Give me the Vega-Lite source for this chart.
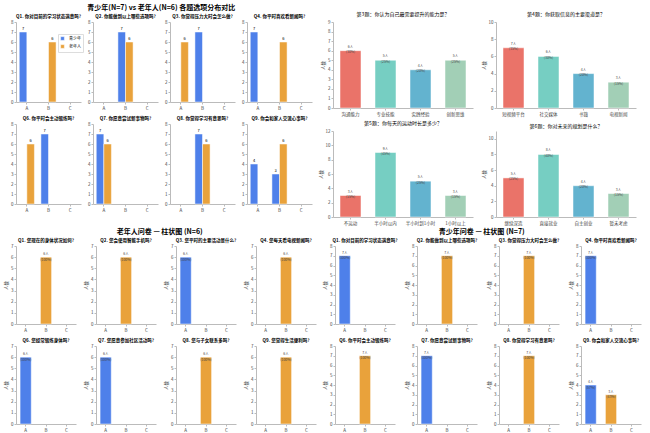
{
  "$schema": "https://vega.github.io/schema/vega-lite/v6.json",
  "padding": 3,
  "background": "white",
  "datasets": {
    "questions": [
      {"q": "Q1", "teen": "Q1. 你对目前的学习状态满意吗?", "old": "Q1. 您现在的身体状况如何?"},
      {"q": "Q2", "teen": "Q2. 你能做到以上哪些选项吗?", "old": "Q2. 您会使用智能手机吗?"},
      {"q": "Q3", "teen": "Q3. 你觉得压力大时会怎么做?", "old": "Q3. 您平时的主要活动是什么?"},
      {"q": "Q4", "teen": "Q4. 你平时喜欢看新闻吗?", "old": "Q4. 您每天看电视新闻吗?"},
      {"q": "Q6", "teen": "Q6. 你平时会主动锻炼吗?", "old": "Q6. 您经常锻炼身体吗?"},
      {"q": "Q7", "teen": "Q7. 你愿意尝试新事物吗?", "old": "Q7. 您愿意参加社区活动吗?"},
      {"q": "Q8", "teen": "Q8. 你觉得学习有意思吗?", "old": "Q8. 您与子女联系多吗?"},
      {"q": "Q9", "teen": "Q9. 你会和家人交流心事吗?", "old": "Q9. 您觉得生活便利吗?"}
    ],
    "survey": [
      {"q": "Q1", "group": "青少年", "option": "A", "count": 7},
      {"q": "Q1", "group": "老年人", "option": "B", "count": 6},
      {"q": "Q2", "group": "青少年", "option": "B", "count": 7},
      {"q": "Q2", "group": "老年人", "option": "B", "count": 6},
      {"q": "Q3", "group": "青少年", "option": "B", "count": 7},
      {"q": "Q3", "group": "老年人", "option": "A", "count": 6},
      {"q": "Q4", "group": "青少年", "option": "A", "count": 7},
      {"q": "Q4", "group": "老年人", "option": "B", "count": 6},
      {"q": "Q6", "group": "青少年", "option": "B", "count": 7},
      {"q": "Q6", "group": "老年人", "option": "A", "count": 6},
      {"q": "Q7", "group": "青少年", "option": "A", "count": 7},
      {"q": "Q7", "group": "老年人", "option": "A", "count": 6},
      {"q": "Q8", "group": "青少年", "option": "B", "count": 7},
      {"q": "Q8", "group": "老年人", "option": "B", "count": 6},
      {"q": "Q9", "group": "青少年", "option": "A", "count": 4},
      {"q": "Q9", "group": "青少年", "option": "B", "count": 3},
      {"q": "Q9", "group": "老年人", "option": "B", "count": 6}
    ],
    "ranking": [
      {"panel": 1, "choice": "沟通能力", "count": 6},
      {"panel": 1, "choice": "专业技能", "count": 5},
      {"panel": 1, "choice": "实践经验", "count": 4},
      {"panel": 1, "choice": "创新思维", "count": 5},
      {"panel": 2, "choice": "短视频平台", "count": 7},
      {"panel": 2, "choice": "社交媒体", "count": 6},
      {"panel": 2, "choice": "书籍", "count": 4},
      {"panel": 2, "choice": "电视新闻", "count": 3},
      {"panel": 3, "choice": "不运动", "count": 3},
      {"panel": 3, "choice": "半小时以内", "count": 9},
      {"panel": 3, "choice": "半小时到1小时", "count": 5},
      {"panel": 3, "choice": "1小时以上", "count": 3},
      {"panel": 4, "choice": "继续深造", "count": 5},
      {"panel": 4, "choice": "直接就业", "count": 8},
      {"panel": 4, "choice": "自主创业", "count": 4},
      {"panel": 4, "choice": "暂未考虑", "count": 3}
    ]
  },
  "spacing": 2,
  "resolve": {"scale": {"color": "independent", "x": "independent", "y": "independent"}},
  "vconcat": [
    {
      "spacing": 6,
      "resolve": {"scale": {"color": "independent", "x": "independent", "y": "independent"}},
      "hconcat": [
        {
          "title": "青少年(N=7) vs 老年人(N=6) 各题选项分布对比",
          "data": {"name": "survey"},
          "transform": [
            {"lookup": "q", "from": {"data": {"name": "questions"}, "key": "q", "fields": ["teen"]}}
          ],
          "facet": {"field": "teen", "type": "nominal", "header": {"title": null}},
          "columns": 4,
          "spacing": {"row": 5, "column": 6},
          "resolve": {"axis": {"x": "independent", "y": "independent"}},
          "spec": {
            "width": 65,
            "height": 80,
            "encoding": {
              "x": {"field": "option", "type": "nominal", "scale": {"domain": ["A", "B", "C"], "paddingInner": 0.3, "paddingOuter": 0.15}, "axis": {"title": null, "labelAngle": 0}},
              "xOffset": {"field": "group", "type": "nominal", "scale": {"domain": ["青少年", "老年人"]}},
              "y": {"field": "count", "type": "quantitative", "scale": {"domain": [0, 8]}, "axis": {"title": null, "values": [0, 1, 2, 3, 4, 5, 6, 7, 8]}}
            },
            "layer": [
              {
                "mark": "bar",
                "encoding": {
                  "color": {
                    "field": "group", "type": "nominal",
                    "scale": {"domain": ["青少年", "老年人"], "range": ["#4E80EA", "#E9A23B"]},
                    "legend": {"orient": "none", "legendX": 42, "legendY": 12, "title": null, "labelFontSize": 4, "symbolType": "square", "symbolSize": 14, "rowPadding": 1, "padding": 2, "strokeColor": "#ddd"}
                  }
                }
              },
              {
                "mark": {"type": "text", "baseline": "bottom", "dy": -1, "fontSize": 4},
                "encoding": {"text": {"field": "count", "type": "quantitative"}}
              }
            ]
          }
        },
        {
          "spacing": 5,
          "resolve": {"scale": {"color": "independent", "x": "independent", "y": "independent"}},
          "vconcat": [
            {
              "spacing": 8,
              "resolve": {"scale": {"color": "independent", "x": "independent", "y": "independent"}},
              "hconcat": [
                {
                  "title": {"text": "第3题：你认为自己最需要提升的能力是？", "fontSize": 5, "fontWeight": "normal", "offset": 2},
                  "data": {"name": "ranking"},
                  "transform": [
                    {"filter": "datum.panel == 1"},
                    {"joinaggregate": [{"op": "sum", "field": "count", "as": "total"}]},
                    {"calculate": "datum.count + '人\\n(' + format(datum.count / datum.total, '.0%') + ')'", "as": "label"}
                  ],
                  "width": 140,
                  "height": 86,
                  "encoding": {
                    "x": {"field": "choice", "type": "nominal", "sort": null, "scale": {"paddingInner": 0.4, "paddingOuter": 0.2}, "axis": {"title": null, "labelAngle": 0}},
                    "y": {"field": "count", "type": "quantitative", "scale": {"domain": [0, 9]}, "axis": {"title": "人数", "values": [0, 1, 2, 3, 4, 5, 6, 7, 8, 9]}}
                  },
                  "layer": [
                    {"mark": "bar", "encoding": {"color": {"field": "choice", "type": "nominal", "sort": null, "scale": {"range": ["#EA7369", "#76CEC2", "#63B3CF", "#A2CFB6"]}, "legend": null}}},
                    {"mark": {"type": "text", "baseline": "bottom", "dy": -2, "fontSize": 3.5, "lineBreak": "\n", "color": "#444"}, "encoding": {"text": {"field": "label"}}}
                  ]
                },
                {
                  "title": {"text": "第4题：你获取信息的主要渠道是？", "fontSize": 5, "fontWeight": "normal", "offset": 2},
                  "data": {"name": "ranking"},
                  "transform": [
                    {"filter": "datum.panel == 2"},
                    {"joinaggregate": [{"op": "sum", "field": "count", "as": "total"}]},
                    {"calculate": "datum.count + '人\\n(' + format(datum.count / datum.total, '.0%') + ')'", "as": "label"}
                  ],
                  "width": 140,
                  "height": 86,
                  "encoding": {
                    "x": {"field": "choice", "type": "nominal", "sort": null, "scale": {"paddingInner": 0.4, "paddingOuter": 0.2}, "axis": {"title": null, "labelAngle": 0}},
                    "y": {"field": "count", "type": "quantitative", "scale": {"domain": [0, 10]}, "axis": {"title": "人数", "values": [0, 2, 4, 6, 8, 10]}}
                  },
                  "layer": [
                    {"mark": "bar", "encoding": {"color": {"field": "choice", "type": "nominal", "sort": null, "scale": {"range": ["#EA7369", "#76CEC2", "#63B3CF", "#A2CFB6"]}, "legend": null}}},
                    {"mark": {"type": "text", "baseline": "bottom", "dy": -2, "fontSize": 3.5, "lineBreak": "\n", "color": "#444"}, "encoding": {"text": {"field": "label"}}}
                  ]
                }
              ]
            },
            {
              "spacing": 8,
              "resolve": {"scale": {"color": "independent", "x": "independent", "y": "independent"}},
              "hconcat": [
                {
                  "title": {"text": "第5题：你每天的运动时长是多少？", "fontSize": 5, "fontWeight": "normal", "offset": 2},
                  "data": {"name": "ranking"},
                  "transform": [
                    {"filter": "datum.panel == 3"},
                    {"joinaggregate": [{"op": "sum", "field": "count", "as": "total"}]},
                    {"calculate": "datum.count + '人\\n(' + format(datum.count / datum.total, '.0%') + ')'", "as": "label"}
                  ],
                  "width": 140,
                  "height": 86,
                  "encoding": {
                    "x": {"field": "choice", "type": "nominal", "sort": null, "scale": {"paddingInner": 0.4, "paddingOuter": 0.2}, "axis": {"title": null, "labelAngle": 0}},
                    "y": {"field": "count", "type": "quantitative", "scale": {"domain": [0, 12]}, "axis": {"title": "人数", "values": [0, 2, 4, 6, 8, 10, 12]}}
                  },
                  "layer": [
                    {"mark": "bar", "encoding": {"color": {"field": "choice", "type": "nominal", "sort": null, "scale": {"range": ["#EA7369", "#76CEC2", "#63B3CF", "#A2CFB6"]}, "legend": null}}},
                    {"mark": {"type": "text", "baseline": "bottom", "dy": -2, "fontSize": 3.5, "lineBreak": "\n", "color": "#444"}, "encoding": {"text": {"field": "label"}}}
                  ]
                },
                {
                  "title": {"text": "第6题：你对未来的规划是什么？", "fontSize": 5, "fontWeight": "normal", "offset": 2},
                  "data": {"name": "ranking"},
                  "transform": [
                    {"filter": "datum.panel == 4"},
                    {"joinaggregate": [{"op": "sum", "field": "count", "as": "total"}]},
                    {"calculate": "datum.count + '人\\n(' + format(datum.count / datum.total, '.0%') + ')'", "as": "label"}
                  ],
                  "width": 140,
                  "height": 86,
                  "encoding": {
                    "x": {"field": "choice", "type": "nominal", "sort": null, "scale": {"paddingInner": 0.4, "paddingOuter": 0.2}, "axis": {"title": null, "labelAngle": 0}},
                    "y": {"field": "count", "type": "quantitative", "scale": {"domain": [0, 11]}, "axis": {"title": "人数", "values": [0, 2, 4, 6, 8, 10]}}
                  },
                  "layer": [
                    {"mark": "bar", "encoding": {"color": {"field": "choice", "type": "nominal", "sort": null, "scale": {"range": ["#EA7369", "#76CEC2", "#63B3CF", "#A2CFB6"]}, "legend": null}}},
                    {"mark": {"type": "text", "baseline": "bottom", "dy": -2, "fontSize": 3.5, "lineBreak": "\n", "color": "#444"}, "encoding": {"text": {"field": "label"}}}
                  ]
                }
              ]
            }
          ]
        }
      ]
    },
    {
      "spacing": 6,
      "resolve": {"scale": {"color": "independent", "x": "independent", "y": "independent"}},
      "hconcat": [
        {
          "title": "老年人问卷 — 柱状图 (N=6)",
          "data": {"name": "survey"},
          "transform": [
            {"filter": "datum.group == '老年人'"},
            {"lookup": "q", "from": {"data": {"name": "questions"}, "key": "q", "fields": ["old"]}},
            {"joinaggregate": [{"op": "sum", "field": "count", "as": "total"}], "groupby": ["q"]},
            {"calculate": "datum.count + '人\\n(' + format(datum.count / datum.total, '.0%') + ')'", "as": "label"}
          ],
          "facet": {"field": "old", "type": "nominal", "header": {"title": null}},
          "columns": 4,
          "spacing": {"row": 5, "column": 6},
          "resolve": {"axis": {"x": "independent", "y": "independent"}},
          "spec": {
            "width": 60,
            "height": 78,
            "encoding": {
              "x": {"field": "option", "type": "nominal", "scale": {"domain": ["A", "B", "C"], "paddingInner": 0.45, "paddingOuter": 0.2}, "axis": {"title": null, "labelAngle": 0}},
              "y": {"field": "count", "type": "quantitative", "scale": {"domain": [0, 7]}, "axis": {"title": "人数", "values": [0, 1, 2, 3, 4, 5, 6, 7]}}
            },
            "layer": [
              {"mark": "bar", "encoding": {"color": {"field": "option", "type": "nominal", "scale": {"domain": ["A", "B", "C"], "range": ["#4E80EA", "#E9A23B", "#59B987"]}, "legend": null}}},
              {"mark": {"type": "text", "baseline": "bottom", "dy": -1, "fontSize": 3.5, "lineBreak": "\n", "color": "#444"}, "encoding": {"text": {"field": "label"}}}
            ]
          }
        },
        {
          "title": "青少年问卷 — 柱状图 (N=7)",
          "data": {"name": "survey"},
          "transform": [
            {"filter": "datum.group == '青少年'"},
            {"lookup": "q", "from": {"data": {"name": "questions"}, "key": "q", "fields": ["teen"]}},
            {"joinaggregate": [{"op": "sum", "field": "count", "as": "total"}], "groupby": ["q"]},
            {"calculate": "datum.count + '人\\n(' + format(datum.count / datum.total, '.0%') + ')'", "as": "label"}
          ],
          "facet": {"field": "teen", "type": "nominal", "header": {"title": null}},
          "columns": 4,
          "spacing": {"row": 5, "column": 6},
          "resolve": {"axis": {"x": "independent", "y": "independent"}},
          "spec": {
            "width": 60,
            "height": 78,
            "encoding": {
              "x": {"field": "option", "type": "nominal", "scale": {"domain": ["A", "B", "C"], "paddingInner": 0.45, "paddingOuter": 0.2}, "axis": {"title": null, "labelAngle": 0}},
              "y": {"field": "count", "type": "quantitative", "scale": {"domain": [0, 8]}, "axis": {"title": "人数", "values": [0, 1, 2, 3, 4, 5, 6, 7, 8]}}
            },
            "layer": [
              {"mark": "bar", "encoding": {"color": {"field": "option", "type": "nominal", "scale": {"domain": ["A", "B", "C"], "range": ["#4E80EA", "#E9A23B", "#59B987"]}, "legend": null}}},
              {"mark": {"type": "text", "baseline": "bottom", "dy": -1, "fontSize": 3.5, "lineBreak": "\n", "color": "#444"}, "encoding": {"text": {"field": "label"}}}
            ]
          }
        }
      ]
    }
  ],
  "config": {
    "font": "Noto Sans CJK SC",
    "view": {"stroke": null},
    "axis": {"labelFontSize": 4.5, "titleFontSize": 4.5, "titleFontWeight": "normal", "domainColor": "#bbb", "tickColor": "#bbb", "tickSize": 2, "labelPadding": 1, "grid": false, "labelColor": "#444", "titleColor": "#444", "titlePadding": 2},
    "header": {"labelFontSize": 4.5, "labelFontWeight": "bold", "labelPadding": 1},
    "title": {"fontSize": 7, "offset": 3, "anchor": "middle"},
    "bar": {"stroke": "white", "strokeWidth": 0.5}
  }
}
